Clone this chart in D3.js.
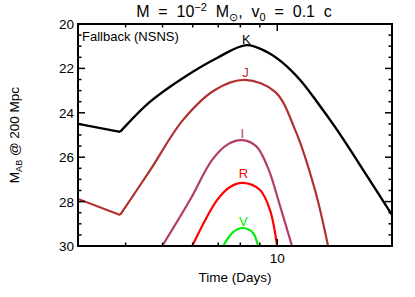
<!DOCTYPE html>
<html><head><meta charset="utf-8">
<script src="https://cdn.jsdelivr.net/npm/d3@7"></script>
<style>
body{margin:0;background:#fff;}
svg text{font-family:"Liberation Sans",Arial,sans-serif;}
</style></head>
<body><svg id="c" width="415" height="297"></svg>
<script>
// Data: [time (days), M_AB @ 200 Mpc]
const bandK = [[3,24.50],[3.87,24.86],[4.64,23.50],[5.66,22.43],[6.95,21.53],[8.3,20.95],[9.40,21.26],[10.36,21.76],[11.48,22.52],[12.72,23.51],[14.35,24.77],[17.21,26.85],[20,28.60]];
const bandJ = [[3,27.88],[3.87,28.60],[4.64,26.58],[5.66,24.32],[6.86,22.97],[8.23,22.52],[9.87,23.06],[11.14,24.77],[12.56,27.48],[13.59,30]];
const bandI = [[4.99,30],[5.90,27.93],[6.74,26.13],[7.43,25.41],[8.08,25.23],[8.80,25.50],[9.46,26.49],[10.17,28.20],[10.93,30]];
const bandR = [[5.98,30],[6.95,27.93],[7.52,27.34],[8.13,27.16],[9.01,27.48],[9.57,28.38],[9.99,30]];
const bandV = [[7.21,30],[7.66,29.37],[8.13,29.19],[8.64,29.41],[8.90,30]];
const seriesNames = ["K","J","I","R","V"];
const seriesColors = ["#000000","#b03030","#b03c6c","#ff0000","#00ee00"];
const kinkIndex = [1,1,-1,-1,-1];
const labelPos = [[8.3,20.9],[8.25,22.4],[8.1,25.15],[8.15,26.95],[8.15,29.1]];
const xTickMajor = [10];
const xTickMinor = [4,5,6,7,8,9,20];
const yTicks = [20,22,24,26,28,30];

const svg = d3.select("#c");
const L=78, R=392, T=24, B=246;
const x = d3.scaleLog().domain([3,20]).range([L,R]);
const y = d3.scaleLinear().domain([20,30]).range([T,B]);

svg.append("clipPath").attr("id","clip").append("rect").attr("x",L).attr("y",T).attr("width",R-L).attr("height",B-T);
const g = svg.append("g").attr("clip-path","url(#clip)");
const data = [bandK,bandJ,bandI,bandR,bandV];
data.forEach((d,i)=>{
  const k = kinkIndex[i];
  const lin = d3.line().x(p=>x(p[0])).y(p=>y(p[1]));
  const smooth = d3.line().x(p=>x(p[0])).y(p=>y(p[1])).curve(d3.curveCatmullRom.alpha(0.5));
  const sw = i===0?2.4:2.2;
  if(k>0){
    g.append("path").attr("d",lin(d.slice(0,k+1))).attr("fill","none").attr("stroke",seriesColors[i]).attr("stroke-width",sw);
    g.append("path").attr("d",smooth(d.slice(k))).attr("fill","none").attr("stroke",seriesColors[i]).attr("stroke-width",sw);
  } else {
    g.append("path").attr("d",smooth(d)).attr("fill","none").attr("stroke",seriesColors[i]).attr("stroke-width",sw);
  }
  svg.append("text").attr("x",x(labelPos[i][0])).attr("y",y(labelPos[i][1])).attr("text-anchor","middle")
    .attr("font-size",13).attr("fill",seriesColors[i]).text(seriesNames[i]);
});

// frame
svg.append("rect").attr("x",L).attr("y",T).attr("width",R-L).attr("height",B-T).attr("fill","none").attr("stroke","#000").attr("stroke-width",2);

// x ticks (bottom and top, inward)
const tk = svg.append("g").attr("stroke","#000").attr("stroke-width",1.5);
xTickMajor.forEach(v=>{
  tk.append("line").attr("x1",x(v)).attr("x2",x(v)).attr("y1",B).attr("y2",B-7);
  tk.append("line").attr("x1",x(v)).attr("x2",x(v)).attr("y1",T).attr("y2",T+7);
});
xTickMinor.forEach(v=>{
  tk.append("line").attr("x1",x(v)).attr("x2",x(v)).attr("y1",B).attr("y2",B-3.5);
  tk.append("line").attr("x1",x(v)).attr("x2",x(v)).attr("y1",T).attr("y2",T+3.5);
});
// y ticks
d3.range(20,30.01,0.5).forEach(v=>{
  const major = Math.abs(v-Math.round(v/2)*2)<1e-6;
  const len = major?7:3.5;
  tk.append("line").attr("x1",L).attr("x2",L+len).attr("y1",y(v)).attr("y2",y(v));
  tk.append("line").attr("x1",R).attr("x2",R-len).attr("y1",y(v)).attr("y2",y(v));
});
yTicks.forEach(v=>{
  svg.append("text").attr("x",L-4).attr("y",y(v)+5).attr("text-anchor","end").attr("font-size",13.5).text(v);
});
xTickMajor.forEach(v=>{
  svg.append("text").attr("x",x(v)).attr("y",B+17).attr("text-anchor","middle").attr("font-size",13.5).text(v);
});
svg.append("text").attr("x",(L+R)/2).attr("y",282).attr("text-anchor","middle").attr("font-size",13.5).text("Time (Days)");
// y label
const yl = svg.append("text").attr("transform","translate(19,135) rotate(-90)").attr("text-anchor","middle").attr("font-size",13.5);
yl.append("tspan").text("M");
yl.append("tspan").attr("font-size",9).attr("dy",3).text("AB");
yl.append("tspan").attr("dy",-3).text("  @  200  Mpc");
// title
const t = svg.append("text").attr("x",234).attr("y",17).attr("text-anchor","middle").attr("font-size",16).attr("xml:space","preserve");
t.append("tspan").text("M  =  10");
t.append("tspan").attr("font-size",11).attr("dy",-6).text("−2");
t.append("tspan").attr("dy",6).text("  M");
t.append("tspan").attr("font-size",11).attr("dy",4).text("⊙");
t.append("tspan").attr("dy",-4).text(",  v");
t.append("tspan").attr("font-size",11).attr("dy",4).text("0");
t.append("tspan").attr("dy",-4).text("  =  0.1  c");
svg.append("text").attr("x",82).attr("y",41).attr("font-size",13).text("Fallback (NSNS)");
</script></body></html>
